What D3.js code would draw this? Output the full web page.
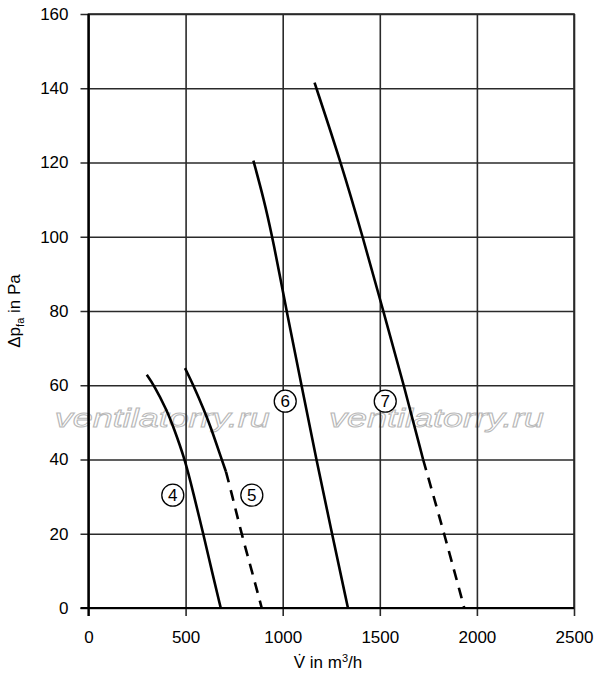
<!DOCTYPE html>
<html>
<head>
<meta charset="utf-8">
<script src="https://cdn.jsdelivr.net/npm/d3@7"></script>
<style>
  body { margin: 0; background: #fff; }
  svg { font-family: "Liberation Sans", Arial, sans-serif; }
</style>
</head>
<body>
<script>
"use strict";

// ----------------------------------------
//  Data
// ----------------------------------------
const xTicks = [0, 500, 1000, 1500, 2000, 2500];
const yTicks = [0, 20, 40, 60, 80, 100, 120, 140, 160];

const curve4 = [[300, 62.8], [337, 60], [403, 53.3], [437, 48.8], [497, 40], [540, 30.9], [591, 20], [634, 10.2], [681, 0]];
const curve5 = [[497, 64.6], [540, 60], [595, 53.3], [629, 48.8], [686, 40], [708, 36.7]];
const curve5Dash = [[708, 36.7], [737, 30.9], [788, 20], [840, 10.2], [892, 0]];
const curve6 = [[849, 120.5], [904, 109.9], [946, 100], [983, 90.2], [1020, 80], [1097, 60], [1173, 40], [1254, 20], [1336, 0]];
const curve7 = [[1164, 141.5], [1300, 120], [1412, 100], [1518, 80], [1624, 60], [1723, 40]];
const curve7Dash = [[1723, 40], [1832, 20], [1935, 0]];

const labelNames = ["4", "5", "6", "7"];
const labelPos = [[434, 30.4], [841, 30.4], [1013, 55.7], [1528, 55.7]];

const watermark = "ventilatorry.ru";

// ----------------------------------------
//  Sizing
// ----------------------------------------
const margin = {top: 14, right: 26, bottom: 67, left: 88.5};
const width = 600 - margin.left - margin.right;
const height = 675 - margin.top - margin.bottom;

const svg = d3.select("body").append("svg")
    .attr("width", 600)
    .attr("height", 675);

const g = svg.append("g")
    .attr("transform", "translate(" + margin.left + "," + margin.top + ")");

const x = d3.scaleLinear().domain([0, 2500]).range([0, width]);
const y = d3.scaleLinear().domain([0, 160]).range([height, 0]);

// watermark (drawn first, outline only, wide glyphs)
[0.152, 0.717].forEach(function(f) {
    g.append("text")
        .attr("x", width * f)
        .attr("y", y(48.7))
        .attr("text-anchor", "middle")
        .attr("font-size", 26)
        .attr("font-style", "italic")
        .attr("textLength", 215)
        .attr("lengthAdjust", "spacingAndGlyphs")
        .attr("fill", "none")
        .attr("stroke", "#b8b8b8")
        .attr("stroke-width", 0.9)
        .text(watermark);
});

// grid + ticks (ticks poke 8px outside the frame)
const yAxis = g.append("g")
    .attr("transform", "translate(" + width + ",0)")
    .call(d3.axisLeft(y).tickValues(yTicks).tickSize(width + 8).tickPadding(12)
        .tickFormat(d3.format("d")));

const xAxis = g.append("g")
    .call(d3.axisBottom(x).tickValues(xTicks).tickSize(height + 8).tickPadding(15)
        .tickFormat(d3.format("d")));

[yAxis, xAxis].forEach(function(a) {
    a.select(".domain").remove();
    a.selectAll("line").attr("stroke", "#2a2a2a").attr("stroke-width", 1.6);
    a.selectAll("text").attr("font-size", 17).attr("fill", "#000")
        .style("font-family", "'Liberation Sans', Arial, sans-serif");
});

// frame
g.append("rect")
    .attr("width", width).attr("height", height)
    .attr("fill", "none").attr("stroke", "#2a2a2a").attr("stroke-width", 1.6);
g.append("line").attr("x1", 0).attr("x2", 0).attr("y1", 0).attr("y2", height + 8)
    .attr("stroke", "#000").attr("stroke-width", 2.2);
g.append("line").attr("x1", -8).attr("x2", width).attr("y1", height).attr("y2", height)
    .attr("stroke", "#000").attr("stroke-width", 2.2);

// ----------------------------------------
//  Curves
// ----------------------------------------
const line = d3.line()
    .x(function(d) { return x(d[0]); })
    .y(function(d) { return y(d[1]); })
    .curve(d3.curveBasis);

[curve4, curve5, curve6, curve7].forEach(function(c) {
    g.append("path").datum(c)
        .attr("d", line)
        .attr("fill", "none").attr("stroke", "#000").attr("stroke-width", 2.6);
});

[curve5Dash, curve7Dash].forEach(function(c) {
    g.append("path").datum(c)
        .attr("d", line)
        .attr("fill", "none").attr("stroke", "#000").attr("stroke-width", 2.6)
        .attr("stroke-dasharray", "11,8");
});

// circled curve numbers
const labels = g.selectAll(".lbl")
    .data(labelNames)
    .enter().append("g")
    .attr("class", "lbl")
    .attr("transform", function(d, i) {
        return "translate(" + x(labelPos[i][0]) + "," + y(labelPos[i][1]) + ")";
    });
labels.append("circle").attr("r", 11)
    .attr("fill", "#fff").attr("stroke", "#000").attr("stroke-width", 1.3);
labels.append("text")
    .attr("text-anchor", "middle").attr("dy", "0.36em")
    .attr("font-size", 17)
    .text(function(d) { return d; });

// ----------------------------------------
//  Axis titles
// ----------------------------------------
const xt = svg.append("text")
    .attr("x", 328).attr("y", 668)
    .attr("text-anchor", "middle")
    .attr("font-size", 17);
xt.append("tspan").text("V\u0307 in m");
xt.append("tspan").attr("font-size", 11).attr("dy", -6).text("3");
xt.append("tspan").attr("dy", 6).text("/h");

const yt = svg.append("text")
    .attr("transform", "translate(20,311) rotate(-90)")
    .attr("text-anchor", "middle")
    .attr("font-size", 17);
yt.append("tspan").text("\u0394p");
yt.append("tspan").attr("font-size", 11).attr("dy", 4).text("fa");
yt.append("tspan").attr("dy", -4).text(" in Pa");
</script>
</body>
</html>
